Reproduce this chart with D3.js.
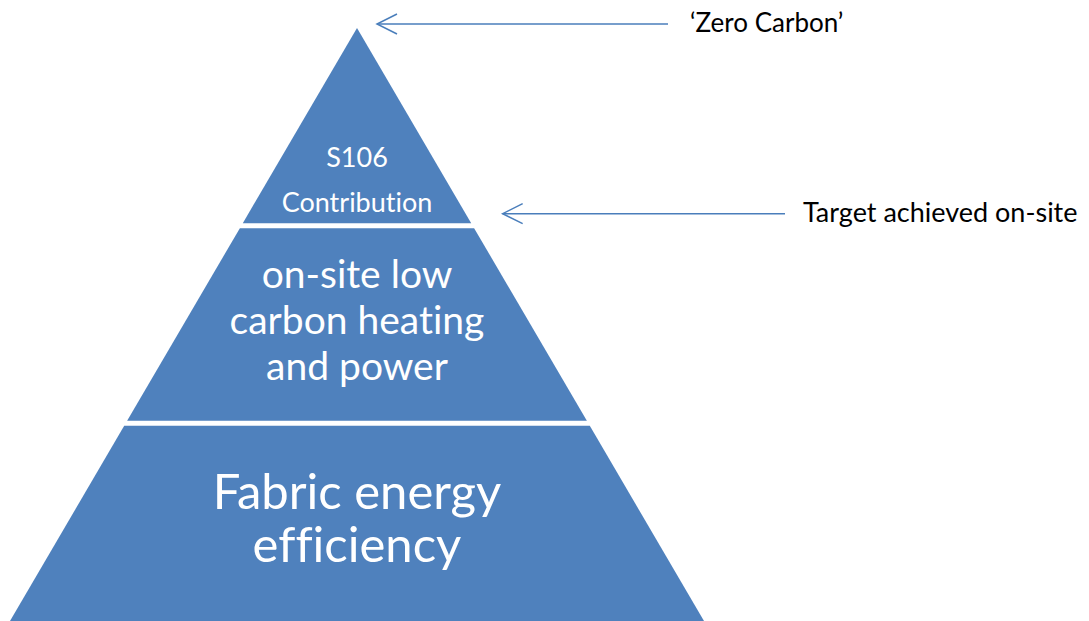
<!DOCTYPE html>
<html>
<head>
<meta charset="utf-8">
<script src="https://cdn.jsdelivr.net/npm/d3@7"></script>
<style>
  body { margin: 0; background: #fff; }
  text { font-family: Lato, "Open Sans", sans-serif; font-variant-ligatures: none; }
</style>
</head>
<body>
<script>
// pyramid levels, bottom to top
var levels = ["fabric", "onsite", "s106"];
var levelLabels = [
  ["Fabric energy", "efficiency"],
  ["on-site low", "carbon heating", "and power"],
  ["S106", "Contribution"]
];
var levelSizes = [1, 1, 1];

// callouts: text and the level edge they point to
var calloutText = ["\u2018Zero Carbon\u2019", "Target achieved on-site"];
var calloutLevel = [3, 2];

var width = 1089, height = 621;
var apexX = 357, halfBase = 347;
var color = "#4f81bd";
var gap = 5;

var svg = d3.select("body").append("svg")
  .attr("width", width)
  .attr("height", height);

var cum = [0];
levelSizes.forEach(function(d, i) { cum.push(cum[i] + d); });

var y = d3.scaleLinear().domain([0, d3.sum(levelSizes)]).range([621, 28]);

// half width of the pyramid at a given pixel y
function halfW(py) {
  return halfBase * (py - y.range()[1]) / (y.range()[0] - y.range()[1]);
}

var fontSizes = [49, 39, 27];
var lineGaps = [53, 46, 45];
var textShift = [12, 9, 64];

levels.forEach(function(key, i) {
  var yb = y(cum[i]) - (i > 0 ? gap / 2 : 0);
  var yt = y(cum[i + 1]) + (i < levels.length - 1 ? gap / 2 : 0);
  var pts = [
    [apexX - halfW(yb), yb],
    [apexX + halfW(yb), yb],
    [apexX + halfW(yt), yt],
    [apexX - halfW(yt), yt]
  ];
  svg.append("polygon")
    .attr("points", pts.map(function(p) { return p.join(","); }).join(" "))
    .style("fill", color);

  var lines = levelLabels[i];
  var mid = (yb + yt) / 2 + textShift[i];
  svg.selectAll(null)
    .data(lines)
    .enter()
    .append("text")
    .attr("x", apexX)
    .attr("y", function(d, j) { return mid + (j - (lines.length - 1) / 2) * lineGaps[i]; })
    .attr("text-anchor", "middle")
    .style("font-size", fontSizes[i] + "px")
    .style("fill", "#fff")
    .text(function(d) { return d; });
});

// arrows pointing at the apex and at the top of the on-site level
var arrowY = [y(cum[calloutLevel[0]]) - 4, y(cum[calloutLevel[1]]) - 12];
var tipX = [apexX + 20, apexX + halfW(y(cum[calloutLevel[1]])) + 30];
var tailX = [668, 785];
var textX = [690, 803];
var calloutSize = [26, 27];

calloutText.forEach(function(t, i) {
  var g = svg.append("g");
  g.append("line")
    .attr("x1", tailX[i]).attr("y1", arrowY[i])
    .attr("x2", tipX[i]).attr("y2", arrowY[i])
    .style("stroke", "#4a7ebb").style("stroke-width", 1.5);
  g.append("polyline")
    .attr("points", [[tipX[i] + 20, arrowY[i] - 10], [tipX[i], arrowY[i]], [tipX[i] + 20, arrowY[i] + 10]].map(function(p) { return p.join(","); }).join(" "))
    .style("fill", "none")
    .style("stroke", "#4a7ebb").style("stroke-width", 1.5);
  g.append("text")
    .attr("x", textX[i])
    .attr("y", arrowY[i] + 8)
    .style("font-size", calloutSize[i] + "px")
    .style("fill", "#000")
    .text(t);
});
</script>
</body>
</html>
